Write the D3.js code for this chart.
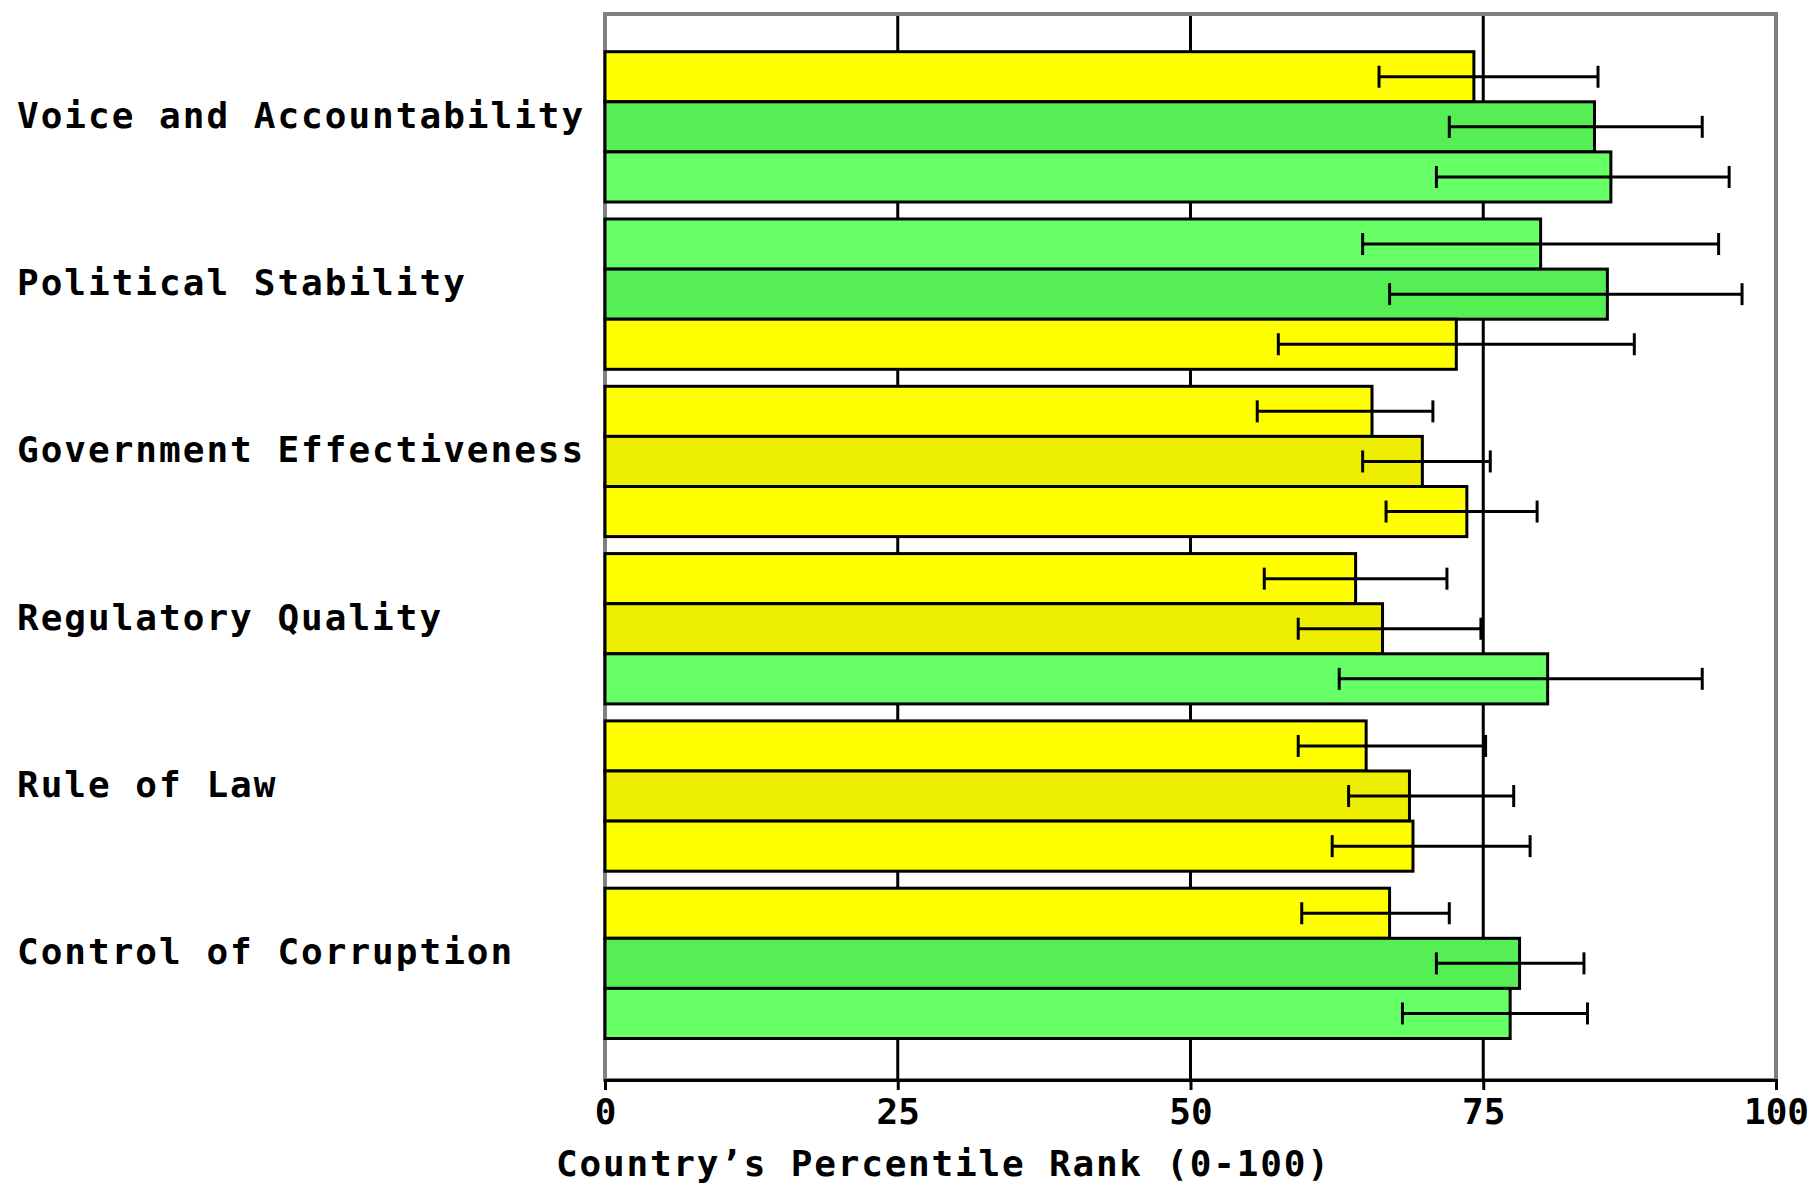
<!DOCTYPE html>
<html>
<head>
<meta charset="utf-8">
<script src="https://cdn.jsdelivr.net/npm/d3@7"></script>
<style>
  html, body { margin: 0; padding: 0; background: #ffffff; }
  svg { display: block; }
  text { font-family: "DejaVu Sans Mono", monospace; font-weight: bold; fill: #000; }
</style>
</head>
<body>
<svg id="chart" width="1813" height="1187"></svg>
<script>
// ---- data ----
const categories = [
  "Voice and Accountability",
  "Political Stability",
  "Government Effectiveness",
  "Regulatory Quality",
  "Rule of Law",
  "Control of Corruption"
];
const seriesNames = ["Series 1", "Series 2", "Series 3"];

const values1 = [74.2, 79.9, 65.5, 64.1, 65.0, 67.0];
const low1    = [66.1, 64.7, 55.7, 56.3, 59.2, 59.5];
const high1   = [84.8, 95.1, 70.7, 71.9, 75.2, 72.1];

const values2 = [84.5, 85.6, 69.8, 66.4, 68.7, 78.1];
const low2    = [72.1, 67.0, 64.7, 59.2, 63.5, 71.0];
const high2   = [93.7, 97.1, 75.6, 74.8, 77.6, 83.6];

const values3 = [85.9, 72.7, 73.6, 80.5, 69.0, 77.3];
const low3    = [71.0, 57.5, 66.7, 62.7, 62.1, 68.1];
const high3   = [96.0, 87.9, 79.6, 93.7, 79.0, 83.9];

const xTicks = [0, 25, 50, 75, 100];
const xLabel = "Country\u2019s Percentile Rank (0-100)";

// ---- build ----
const seriesValues = [values1, values2, values3];
const seriesLow = [low1, low2, low3];
const seriesHigh = [high1, high2, high3];

const rows = [];
categories.forEach((c, ci) => {
  seriesNames.forEach((s, si) => {
    rows.push({ cat: c, series: s, si: si,
      value: seriesValues[si][ci], lo: seriesLow[si][ci], hi: seriesHigh[si][ci] });
  });
});

const svg = d3.select("#chart");
const plotLeft = 605, plotRight = 1776, plotTop = 14, plotBottom = 1080;

const x = d3.scaleLinear().domain([0, 100]).range([plotLeft, plotRight]);
const y = d3.scaleBand().domain(categories).range([51.7, 1038.5])
  .paddingInner(0.1016).paddingOuter(0);
const ySub = d3.scaleBand().domain(seriesNames).range([0, y.bandwidth()]).padding(0);

// colour: by value band, darker shade for middle series
const brightColor = d3.scaleThreshold().domain([75]).range(["#FFFF00", "#66FF66"]);
const darkColor = d3.scaleThreshold().domain([75]).range(["#EEEE00", "#55EE55"]);
const colorOf = d => d.si === 1 ? darkColor(d.value) : brightColor(d.value);

// frame (gray)
svg.append("rect")
  .attr("x", plotLeft).attr("y", plotTop)
  .attr("width", plotRight - plotLeft).attr("height", plotBottom - plotTop)
  .attr("fill", "none").attr("stroke", "#808080").attr("stroke-width", 4);

// gridlines (behind bars)
svg.append("g").selectAll("line")
  .data(xTicks.filter(t => t > 0 && t < 100))
  .join("line")
  .attr("x1", d => x(d)).attr("x2", d => x(d))
  .attr("y1", plotTop + 2).attr("y2", plotBottom)
  .attr("stroke", "#000").attr("stroke-width", 3);

// x axis
const xAxis = d3.axisBottom(x).tickValues(xTicks).tickSize(10).tickPadding(12)
  .tickFormat(d3.format("d"));
const gx = svg.append("g").attr("transform", `translate(0,${plotBottom})`).call(xAxis);
gx.select(".domain").attr("stroke", "#000").attr("stroke-width", 3);
gx.selectAll(".tick line").attr("stroke", "#000").attr("stroke-width", 3);
gx.selectAll(".tick text")
  .attr("font-family", "DejaVu Sans Mono").attr("font-weight", "bold")
  .attr("font-size", 36).attr("fill", "#000")
  .attr("dy", null).attr("y", 44);

// bars
svg.append("g").selectAll("rect")
  .data(rows)
  .join("rect")
  .attr("x", x(0))
  .attr("y", d => y(d.cat) + ySub(d.series))
  .attr("width", d => x(d.value) - x(0))
  .attr("height", ySub.bandwidth())
  .attr("fill", colorOf)
  .attr("stroke", "#000").attr("stroke-width", 3);

// error bars
const eg = svg.append("g").attr("stroke", "#000").attr("stroke-width", 3);
const cy = d => y(d.cat) + ySub(d.series) + ySub.bandwidth() / 2;
eg.selectAll("line.h").data(rows).join("line").attr("class", "h")
  .attr("x1", d => x(d.lo)).attr("x2", d => x(d.hi))
  .attr("y1", cy).attr("y2", cy);
eg.selectAll("line.l").data(rows).join("line").attr("class", "l")
  .attr("x1", d => x(d.lo)).attr("x2", d => x(d.lo))
  .attr("y1", d => cy(d) - 11).attr("y2", d => cy(d) + 11);
eg.selectAll("line.r").data(rows).join("line").attr("class", "r")
  .attr("x1", d => x(d.hi)).attr("x2", d => x(d.hi))
  .attr("y1", d => cy(d) - 11).attr("y2", d => cy(d) + 11);

// category labels
svg.append("g").selectAll("text")
  .data(categories)
  .join("text")
  .attr("x", 17)
  .attr("y", d => y(d) + y.bandwidth() / 2 + 1)
  .attr("font-size", 36)
  .attr("letter-spacing", 2)
  .text(d => d);

// axis title
svg.append("text")
  .attr("x", 556).attr("y", 1176)
  .attr("font-size", 36)
  .attr("letter-spacing", 1.8)
  .text(xLabel);
</script>
</body>
</html>
